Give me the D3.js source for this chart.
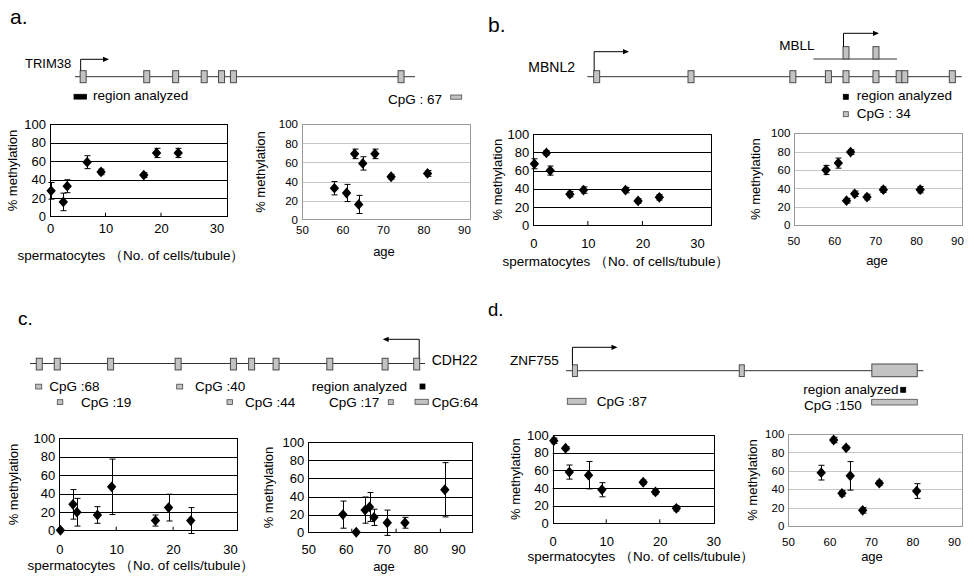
<!DOCTYPE html>
<html><head><meta charset="utf-8">
<script src="https://cdn.jsdelivr.net/npm/d3@7"></script>
<style>
body{margin:0;background:#fff}
svg{display:block}
text{font-family:"Liberation Sans",Arial,sans-serif;fill:#000}
</style>
</head><body>
<svg id="fig" width="974" height="579"></svg>
<script>
// ---------- data ----------
const spermatocytes = [0.2, 2.4, 3.1, 6.7, 9.2, 16.9, 19.2, 23.1];
const ages = [61, 64, 58, 65, 81, 72, 63, 68];

const trim38Meth = [28, 16, 33, 59, 48.5, 45, 69, 69];
const trim38Err  = [9, 9.5, 7, 7, 3, 2.5, 5, 5];
const mbnl2Meth  = [67.5, 79.5, 60, 34, 38.5, 38.5, 26.5, 30.5];
const mbnl2Err   = [5.5, 2.5, 5, 3, 3.5, 3, 2.5, 3];
const cdh22Meth  = [0.5, 28.5, 20, 17, 47.5, 11, 25, 11];
const cdh22Err   = [0, 16, 15, 9, 30, 6, 14.5, 14];
const znf755Meth = [93.5, 85, 58, 54.5, 38, 46.5, 35.5, 17];
const znf755Err  = [3, 2, 8, 15.5, 8, 2.5, 3, 3];

const spermTicks = [0, 10, 20, 30];
const ageTicks = [50, 60, 70, 80, 90];
const methTicks = [0, 20, 40, 60, 80, 100];

// gene structures (relative position along the drawn locus, 0..100)
const trim38Exons = [2.4, 21.1, 29.6, 38.0, 43.1, 46.6, 95.9];
const mbnl2Exons  = [2.5, 27.7, 54.9, 64.4, 69.1, 77.1, 83.3, 84.8, 97.5];
const mbllSpan    = [60.4, 82.7];
const mbllExons   = [69.1, 77.1];
const cdh22Exons  = [2.35, 6.9, 20.4, 37.5, 51.5, 56.1, 62.3, 75.9, 89.9, 97.9];
const znf755Exons = [2.5, 49.2];
const znf755Island = [85.6, 98.3];

const spermTitle = "spermatocytes \uFF08No. of cells/tubule\uFF09";

// ---------- drawing ----------
const svg = d3.select("#fig");
svg.append("rect").attr("width", 974).attr("height", 579).attr("fill", "#fff");

const EXON_FILL = "#c3c3c3", EXON_STROKE = "#4a4a4a";

function scatter(cfg, xs, vals, errs) {
  const g = svg.append("g");
  const y = d3.scaleLinear().domain([0, 100]).range([cfg.bottom, cfg.top]);
  const x = d3.scaleLinear().domain(cfg.domain).range(cfg.range);
  const xl = d3.scaleLinear().domain(cfg.domain).range(cfg.labelRange || cfg.range);
  const excel = cfg.style === "old";
  const gridC = excel ? "#000" : "#c6c6c6";
  const boxC = excel ? "#000" : "#9a9a9a";
  const tickFont = excel ? '"Liberation Sans Narrow","Liberation Sans",Arial,sans-serif' : '"Liberation Sans",Arial,sans-serif';
  const tickSize = excel ? 13 : 11.5;

  g.selectAll("line.grid").data(methTicks.filter(t => t > 0 && t < 100)).join("line")
    .attr("x1", cfg.left).attr("x2", cfg.right)
    .attr("y1", d => Math.round(y(d)) + 0.5).attr("y2", d => Math.round(y(d)) + 0.5)
    .attr("stroke", gridC).attr("stroke-width", 1);
  g.append("rect")
    .attr("x", Math.round(cfg.left) + 0.5).attr("y", Math.round(cfg.top) + 0.5)
    .attr("width", Math.round(cfg.right - cfg.left)).attr("height", Math.round(cfg.bottom - cfg.top))
    .attr("fill", "none").attr("stroke", boxC).attr("stroke-width", 1);
  if (cfg.innerTicks) {
    g.selectAll("line.tk").data(cfg.domain[0] === 0 ? [10, 20] : [60, 70, 80]).join("line")
      .attr("x1", d => x(d)).attr("x2", d => x(d))
      .attr("y1", cfg.bottom).attr("y2", cfg.bottom - 4)
      .attr("stroke", "#000");
  }

  // y axis labels
  const ya = g.append("g").attr("transform", `translate(${cfg.left - 4},0)`)
    .call(d3.axisLeft(y).tickValues(methTicks).tickSize(0).tickPadding(0));
  ya.select(".domain").remove();
  ya.selectAll("text").style("font-family", tickFont).style("font-size", tickSize + "px").attr("fill", "#000");

  // x axis labels
  const xa = g.append("g").attr("transform", `translate(0,${cfg.xLabelY - tickSize * 0.36})`)
    .call(d3.axisBottom(xl).tickValues(cfg.ticks).tickSize(0).tickPadding(0));
  xa.select(".domain").remove();
  xa.selectAll("text").style("font-family", tickFont).style("font-size", tickSize + "px").attr("fill", "#000");

  // titles
  g.append("text").attr("x", cfg.titleX).attr("y", cfg.titleY).attr("dy", "0.35em")
    .attr("text-anchor", cfg.titleAnchor || "middle").style("font-size", (cfg.titleSize || 13) + "px").text(cfg.title);
  g.append("text")
    .attr("transform", `translate(${cfg.yTitleX},${(cfg.top + cfg.bottom) / 2}) rotate(-90)`)
    .attr("dy", "0.35em").attr("text-anchor", "middle").style("font-size", "13px")
    .text("% methylation");

  // error bars + markers
  const pts = xs.map((v, i) => ({ x: v, y: vals[i], e: errs[i] }));
  const eb = g.append("g").attr("stroke", "#000").attr("stroke-width", 1);
  pts.filter(p => p.e > 0).forEach(p => {
    const cx = Math.round(x(p.x)) + 0.5;
    eb.append("line").attr("x1", cx).attr("x2", cx).attr("y1", y(p.y + p.e)).attr("y2", y(p.y - p.e));
    eb.append("line").attr("x1", cx - 3).attr("x2", cx + 3).attr("y1", y(p.y + p.e)).attr("y2", y(p.y + p.e));
    eb.append("line").attr("x1", cx - 3).attr("x2", cx + 3).attr("y1", y(p.y - p.e)).attr("y2", y(p.y - p.e));
  });
  g.selectAll("path.pt").data(pts).join("path")
    .attr("d", p => {
      const cx = x(p.x), cy = y(p.y), w = 4.7, h = 5.4;
      return `M${cx},${cy - h}L${cx + w},${cy}L${cx},${cy + h}L${cx - w},${cy}Z`;
    })
    .attr("fill", "#000");
}

function exonBox(g, cx, cy, w, h) {
  g.append("rect").attr("x", cx - w / 2).attr("y", cy - h / 2).attr("width", w).attr("height", h)
    .attr("fill", EXON_FILL).attr("stroke", EXON_STROKE).attr("stroke-width", 1);
}
function arrow(g, x0, y0, yTop, x1) {
  const dir = x1 > x0 ? 1 : -1;
  g.append("path").attr("d", `M${x0},${y0}V${yTop}H${x1 - dir * 4}`)
    .attr("fill", "none").attr("stroke", "#000").attr("stroke-width", 1);
  g.append("path").attr("d", `M${x1},${yTop}L${x1 - dir * 6},${yTop - 2.6}L${x1 - dir * 6},${yTop + 2.6}Z`)
    .attr("fill", "#000");
}
function txt(g, x, y, s, size, anchor) {
  return g.append("text").attr("x", x).attr("y", y).attr("dy", "0.35em")
    .attr("text-anchor", anchor || "start").style("font-size", (size || 13.5) + "px").text(s);
}
function sq(g, x, y, w, h, fill) {
  g.append("rect").attr("x", x).attr("y", y).attr("width", w).attr("height", h)
    .attr("fill", fill).attr("stroke", fill === "#000" ? "#000" : EXON_STROKE).attr("stroke-width", 0.8);
}
function panelLabel(x, y, s, size) {
  svg.append("text").attr("x", x).attr("y", y).style("font-size", size + "px").text(s);
}

// ---------- panel a ----------
panelLabel(10, 24, "a.", 21);
{
  const g = svg.append("g");
  const gx = d3.scaleLinear().domain([0, 100]).range([75, 415]);
  const ly = 76.7;
  g.append("line").attr("x1", gx(0)).attr("x2", gx(100)).attr("y1", ly).attr("y2", ly).attr("stroke", "#333");
  trim38Exons.forEach(e => exonBox(g, gx(e), ly, 6, 12));
  arrow(g, gx(trim38Exons[0]) - 2.5, ly - 6, 59.3, 109);
  txt(g, 25, 63, "TRIM38", 13);
  sq(g, 74, 94.3, 12.5, 4.8, "#000");
  txt(g, 93, 95.5, "region analyzed", 13.5);
  txt(g, 388, 99, "CpG : 67", 13.5);
  sq(g, 450.7, 95, 11, 4.2, EXON_FILL);
}
scatter({ style: "old", left: 50, right: 227, top: 124.3, bottom: 216.7, domain: [0, 30], range: [50, 216.5],
  ticks: spermTicks, xLabelY: 228.5, title: spermTitle, titleSize: 13.5, titleX: 131, titleY: 255.5, yTitleX: 12, innerTicks: true },
  spermatocytes, trim38Meth, trim38Err);
scatter({ style: "new", left: 302, right: 470, top: 124.3, bottom: 219.7, domain: [50, 90], range: [302, 464],
  ticks: ageTicks, xLabelY: 229.5, title: "age", titleX: 384, titleY: 251, yTitleX: 260 },
  ages, trim38Meth, trim38Err);

// ---------- panel b ----------
panelLabel(488, 31.7, "b.", 21);
{
  const g = svg.append("g");
  const gx = d3.scaleLinear().domain([0, 100]).range([587.3, 961.7]);
  const ly = 76.7, my = 59;
  g.append("line").attr("x1", gx(0)).attr("x2", gx(100)).attr("y1", ly).attr("y2", ly).attr("stroke", "#333");
  mbnl2Exons.forEach(e => exonBox(g, gx(e), ly, 6, 12));
  arrow(g, gx(mbnl2Exons[0]) - 2.5, ly - 6, 51.7, 629);
  txt(g, 528.3, 66.7, "MBNL2", 14);
  g.append("line").attr("x1", gx(mbllSpan[0])).attr("x2", gx(mbllSpan[1])).attr("y1", my).attr("y2", my).attr("stroke", "#333");
  mbllExons.forEach(e => exonBox(g, gx(e), my - 6.2, 6, 12.3));
  arrow(g, gx(mbllExons[0]) - 2.5, my - 12.3, 33.3, 879);
  txt(g, 779.3, 45, "MBLL", 13.5);
  sq(g, 843.3, 94.3, 5, 5, "#000");
  txt(g, 856.7, 95.7, "region analyzed", 13.5);
  sq(g, 843.3, 111.7, 5, 5, EXON_FILL);
  txt(g, 856.7, 113.3, "CpG : 34", 13.5);
}
scatter({ style: "old", left: 533.3, right: 711.7, top: 134.3, bottom: 225, domain: [0, 30], range: [533.3, 697],
  ticks: spermTicks, xLabelY: 243.3, title: spermTitle, titleSize: 13.5, titleX: 616, titleY: 261.5, yTitleX: 497, innerTicks: true },
  spermatocytes, mbnl2Meth, mbnl2Err);
scatter({ style: "new", left: 794.3, right: 962, top: 133.3, bottom: 225, domain: [50, 90], range: [793.3, 957],
  ticks: ageTicks, xLabelY: 240.5, title: "age", titleX: 877, titleY: 260, yTitleX: 755 },
  ages, mbnl2Meth, mbnl2Err);

// ---------- panel c ----------
panelLabel(18, 325, "c.", 19);
{
  const g = svg.append("g");
  const gx = d3.scaleLinear().domain([0, 100]).range([30, 425]);
  const ly = 363.5;
  const r1 = 386.5, r2 = 402;
  g.append("line").attr("x1", gx(0)).attr("x2", gx(100)).attr("y1", ly).attr("y2", ly).attr("stroke", "#333");
  cdh22Exons.forEach(e => exonBox(g, gx(e), ly + 0.6, 6, 11.7));
  arrow(g, gx(cdh22Exons[cdh22Exons.length - 1]) + 2.5, ly - 5.3, 339.3, 382.7);
  txt(g, 431.7, 360, "CDH22", 14);
  sq(g, 35.7, r1 - 2.3, 6, 4.8, EXON_FILL); txt(g, 49.3, r1, "CpG :68", 13.5);
  sq(g, 176.7, r1 - 2.3, 6, 4.8, EXON_FILL); txt(g, 195, r1, "CpG :40", 13.5);
  txt(g, 311.7, r1, "region analyzed", 13.5);
  sq(g, 420, r1 - 2.5, 5, 5, "#000");
  sq(g, 57.3, r2 - 2.3, 5.5, 4.8, EXON_FILL); txt(g, 81, r2, "CpG :19", 13.5);
  sq(g, 227, r2 - 2.3, 5.5, 4.8, EXON_FILL); txt(g, 245, r2, "CpG :44", 13.5);
  txt(g, 329, r2, "CpG :17", 13.5);
  sq(g, 388.3, r2 - 2.3, 5, 4.8, EXON_FILL);
  sq(g, 415, r2 - 2.7, 13.3, 5, EXON_FILL);
  txt(g, 431.7, r2, "CpG:64", 13.5);
}
scatter({ style: "old", left: 59.3, right: 237, top: 438.3, bottom: 530.7, domain: [0, 30], range: [59.3, 230],
  ticks: spermTicks, xLabelY: 549, title: spermTitle, titleSize: 13.5, titleX: 141, titleY: 565.5, yTitleX: 13, innerTicks: true },
  spermatocytes, cdh22Meth, cdh22Err);
scatter({ style: "old", left: 308.3, right: 472, top: 442.3, bottom: 532.7, domain: [50, 90], range: [307.5, 484.7],
  labelRange: [308.3, 458], ticks: ageTicks, xLabelY: 549.5, title: "age", titleX: 384, titleY: 566, yTitleX: 268, innerTicks: true },
  ages, cdh22Meth, cdh22Err);

// ---------- panel d ----------
panelLabel(488, 316, "d.", 18.5);
{
  const g = svg.append("g");
  const gx = d3.scaleLinear().domain([0, 100]).range([566, 923.3]);
  const ly = 370.7;
  g.append("line").attr("x1", gx(0)).attr("x2", gx(100)).attr("y1", ly).attr("y2", ly).attr("stroke", "#333");
  znf755Exons.forEach(e => exonBox(g, gx(e), ly, 5, 11.7));
  g.append("rect").attr("x", gx(znf755Island[0])).attr("y", ly - 6.7)
    .attr("width", gx(znf755Island[1]) - gx(znf755Island[0])).attr("height", 12.7)
    .attr("fill", EXON_FILL).attr("stroke", EXON_STROKE);
  arrow(g, gx(znf755Exons[0]) - 2.5, ly - 5.8, 347.3, 617.5);
  txt(g, 510, 360, "ZNF755", 13.5);
  txt(g, 803.3, 389, "region analyzed", 13.5);
  sq(g, 900.7, 387.3, 5, 5, "#000");
  sq(g, 567.3, 398.3, 18.7, 6, EXON_FILL);
  txt(g, 596.7, 401, "CpG :87", 13.5);
  txt(g, 804, 405.7, "CpG :150", 13.5);
  sq(g, 871.7, 399.3, 45.6, 5.7, EXON_FILL);
}
scatter({ style: "old", left: 552.7, right: 714, top: 435, bottom: 523.3, domain: [0, 30], range: [552.7, 713.3],
  ticks: spermTicks, xLabelY: 541.5, title: spermTitle, titleSize: 13.5, titleX: 641, titleY: 556.5, yTitleX: 515, innerTicks: true },
  spermatocytes, znf755Meth, znf755Err);
scatter({ style: "new", left: 788.3, right: 962, top: 434, bottom: 526, domain: [50, 90], range: [788, 954],
  ticks: ageTicks, xLabelY: 542, title: "age", titleX: 872, titleY: 556, yTitleX: 752 },
  ages, znf755Meth, znf755Err);
</script>
</body></html>
